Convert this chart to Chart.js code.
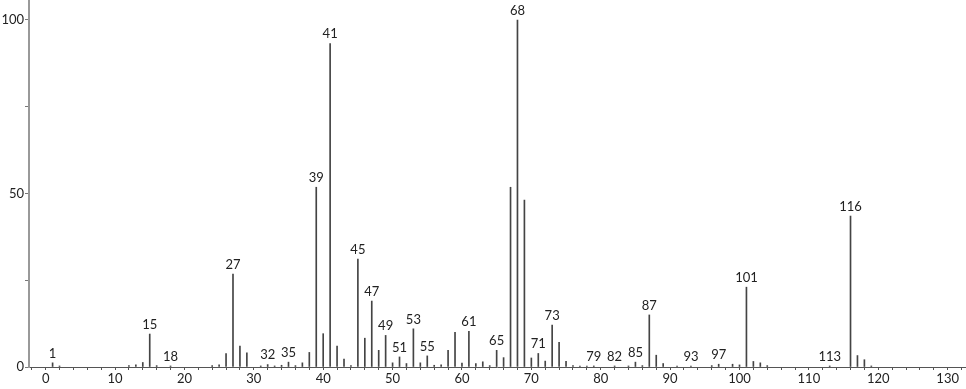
<!DOCTYPE html>
<html>
<head>
<meta charset="utf-8">
<script src="https://cdn.jsdelivr.net/npm/chart.js@4"></script>
<style>
  body { margin: 0; background: #fff; }
</style>
</head>
<body>
<canvas id="spectrum" width="966" height="389"></canvas>
<script>
// m/z positions and relative intensities
const mz = [1, 2, 12, 13, 14, 15, 16, 18, 24, 25, 26, 27, 28, 29, 31, 32, 33, 34, 35, 36, 37, 38, 39, 40,
  41, 42, 43, 44, 45, 46, 47, 48, 49, 50, 51, 52, 53, 54, 55, 56, 57, 58, 59, 60, 61, 62, 63, 64, 65, 66,
  67, 68, 69, 70, 71, 72, 73, 74, 75, 76, 77, 78, 79, 82, 84, 85, 86, 87, 88, 89, 91, 93, 96, 97, 99, 100,
  101, 102, 103, 104, 113, 116, 117, 118, 119]
const intensity = [1.2, 0.3, 0.4, 0.6, 1.3, 9.5, 0.4, 0.3, 0.4, 0.6, 3.9, 26.8, 6.0, 4.1, 0.3, 0.7, 0.3, 0.5, 1.4, 0.4, 1.2, 4.2, 51.8, 9.6,
  93.2, 6.0, 2.3, 0.4, 31.1, 8.3, 19.0, 4.8, 9.1, 1.2, 2.9, 1.0, 11.0, 1.2, 3.2, 0.5, 0.6, 4.8, 10.0, 1.1, 10.3, 1.0, 1.5, 0.4, 4.8, 2.7,
  51.8, 100, 48.1, 2.6, 3.9, 1.7, 12.1, 7.1, 1.6, 0.4, 0.3, 0.3, 0.3, 0.3, 0.3, 1.4, 0.4, 15.0, 3.4, 1.0, 0.3, 0.3, 0.4, 0.8, 0.8, 0.6,
  23.0, 1.6, 1.2, 0.4, 0.3, 43.5, 3.3, 2.1, 0.3]

// peaks that carry a label
const labelled = [1, 15, 18, 27, 32, 35, 39, 41, 45, 47, 49, 51, 53, 55, 61, 65, 68, 71, 73, 79, 82, 85, 87, 93, 97, 101, 113, 116]

const font = { family: 'Lato', size: 13 }

const peakLabels = {
    id: 'peakLabels',
    afterDatasetsDraw(chart) {
        const ctx = chart.ctx
        const meta = chart.getDatasetMeta(0)
        ctx.save()
        ctx.font = `${font.size}px ${font.family}`
        ctx.fillStyle = '#222'
        ctx.textAlign = 'center'
        ctx.textBaseline = 'bottom'
        mz.forEach((m, i) => {
            if (!labelled.includes(m)) return
            const bar = meta.data[i]
            ctx.fillText(String(m), bar.x, bar.y - 3)
        })
        ctx.restore()
    }
}

// no extra room for tick labels, the axes run to the canvas edges
const noPadding = scale => {
    scale.paddingTop = 0
    scale.paddingBottom = 0
    scale.paddingLeft = 0
    scale.paddingRight = 0
}

const data = {
    datasets: [{
        data: mz.map((m, i) => ({ x: m, y: intensity[i] })),
        backgroundColor: '#444',
        borderWidth: 0,
        barThickness: 1,
        grouped: false
    }]
}

const options = {
    responsive: false,
    animation: false,
    layout: { padding: { top: 0, right: 1, left: 0, bottom: 0 } },
    plugins: {
        legend: { display: false },
        tooltip: { enabled: false }
    },
    scales: {
        x: {
            type: 'linear',
            offset: false,
            min: -2.4,
            max: 132.5,
            border: { color: '#555', width: 1 },
            grid: { offset: false, drawOnChartArea: false, tickLength: 3, tickColor: '#555' },
            ticks: {
                stepSize: 2,
                includeBounds: false,
                autoSkip: false,
                maxRotation: 0,
                padding: 1,
                color: '#222',
                font,
                callback: v => v % 10 === 0 ? v : ''
            },
            afterFit: scale => { scale.height = 22; noPadding(scale) }
        },
        y: {
            min: 0,
            max: 105.76,
            border: { color: '#999', width: 2 },
            grid: { drawOnChartArea: false, tickLength: 4, tickColor: '#777' },
            ticks: {
                stepSize: 25,
                includeBounds: false,
                padding: 1,
                color: '#222',
                font,
                callback: v => v % 50 === 0 ? v : ''
            },
            afterFit: scale => { scale.width = 29; noPadding(scale) }
        }
    }
}

new Chart('spectrum', { type: 'bar', data, options, plugins: [peakLabels] })
</script>
</body>
</html>
